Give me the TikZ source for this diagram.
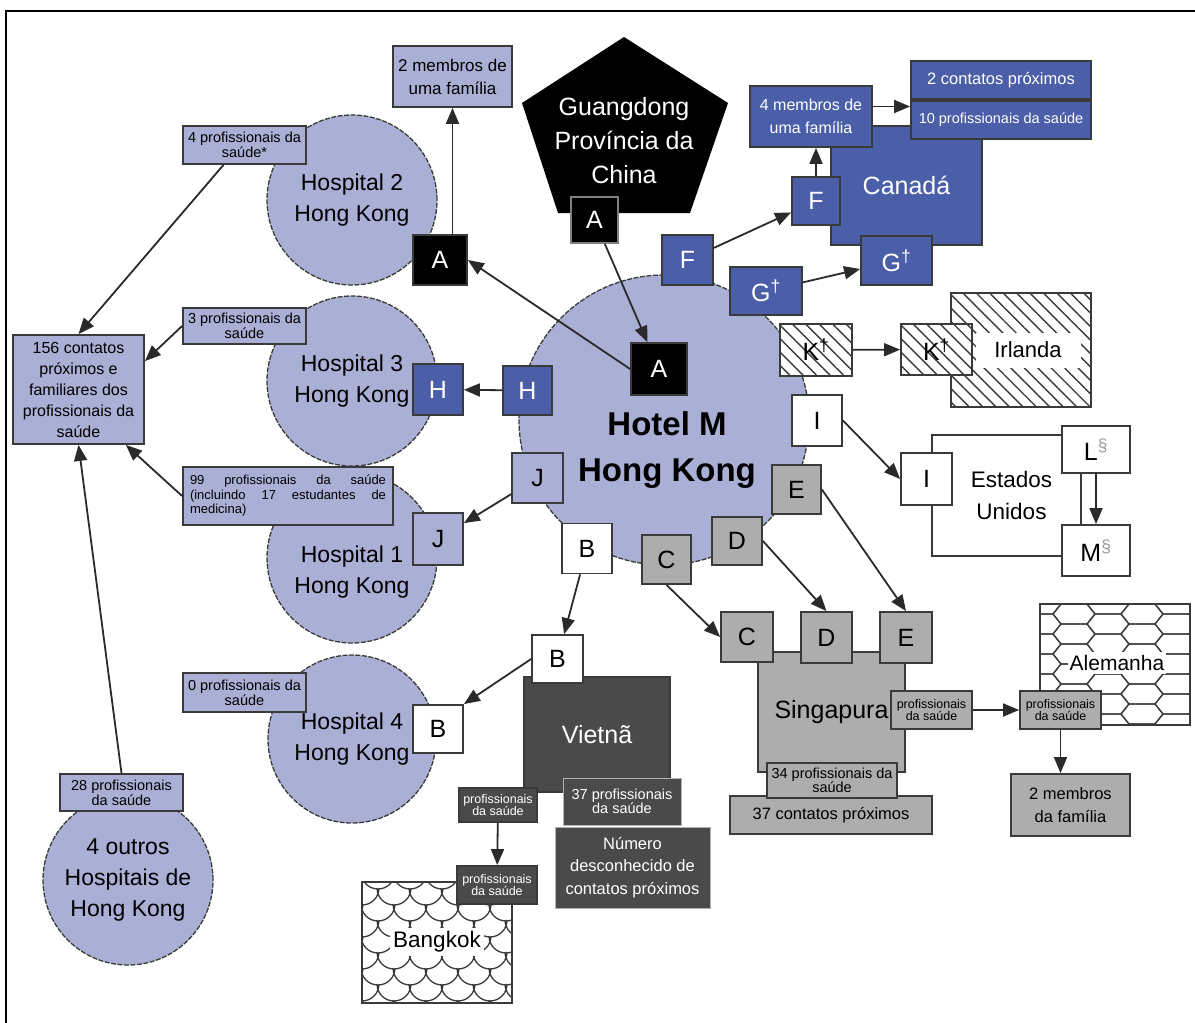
\documentclass[tikz,border=0pt]{standalone}
\usepackage{fontspec}
\setmainfont{Liberation Sans}
\usetikzlibrary{positioning, arrows.meta, patterns.meta}

\definecolor{hkblue}{HTML}{A9AFD5}
\definecolor{cablue}{HTML}{4B5EA8}
\definecolor{sggray}{HTML}{ADADAD}
\definecolor{vndark}{HTML}{4A4A4A}
\definecolor{edge}{HTML}{3A3A3A}
\definecolor{arrowc}{HTML}{2A2A2A}
\definecolor{supgray}{HTML}{9A9A9A}

\newcommand{\fsz}[2]{\fontsize{#1}{#2}\selectfont}
\hyphenpenalty=10000
\tolerance=9999

\begin{document}
\begin{tikzpicture}[
    x=1pt, y=-1pt,
    every node/.style={inner sep=0pt, align=center},
    box/.style={draw=edge, line width=1.8pt},
    letter/.style={box, minimum width=50pt, minimum height=50pt, font=\fsz{25}{25}},
    wide/.style={minimum width=71pt, minimum height=49pt},
    blk/.style={letter, fill=black, text=white},
    blu/.style={letter, fill=cablue, text=white},
    lbl/.style={letter, fill=hkblue},
    wht/.style={letter, fill=white},
    gry/.style={letter, fill=sggray},
    hatchfill/.style={preaction={fill=white}, pattern={Lines[angle=-45,distance=9.5pt,line width=1.4pt]}, pattern color=edge},
    hatch/.style={letter, wide, hatchfill},
    hosp/.style={circle, fill=hkblue, draw=edge, line width=1.3pt, dash pattern=on 5pt off 1.5pt, minimum size=170pt, font=\fsz{23}{31}},
    note/.style={box, fill=hkblue, font=\fsz{14.5}{15}},
    dark/.style={box, fill=vndark, text=white},
    patline/.style={draw=edge, line width=1.3pt},
    conn/.style={draw=arrowc, line width=1.8pt, -{Triangle[length=16pt,width=13pt]}}
]
\useasboundingbox (0,0) rectangle (1195,1023);
\draw[line width=2pt] (6,1023) -- (6,11) -- (1195,11);

% hospitais de Hong Kong
\node[hosp] (h2) at (352,200) {Hospital 2\\Hong Kong};
\node[hosp] (h3) at (352,381) {Hospital 3\\Hong Kong};
\node[hosp] (h1) at (352,558) {};
\node[font=\fsz{23}{31}] (h1txt) at (352,572) {Hospital 1\\Hong Kong};
\node[hosp, minimum size=168pt] (h4) at (352,739) {Hospital 4\\Hong Kong};
\node[hosp] (outros) at (128,880) {4 outros\\Hospitais de\\Hong Kong};

\node[note, minimum width=119pt, minimum height=61pt, font=\fsz{17}{23}] (fam2) at (452.5,76.5) {2 membros de\\uma família};
\node[note, minimum width=123pt, minimum height=38pt] (prof4) at (244.5,145) {4 profissionais da\\saúde*};
\node[note, minimum width=123pt, minimum height=36pt] (prof3) at (244.5,326) {3 profissionais da\\saúde};
\node[note, minimum width=210pt, minimum height=58pt, text width=196pt, align=justify, font=\fsz{13}{14.5}] (prof99) at (288,496) {99 profissionais da saúde (incluindo 17 estudantes de medicina)};
\node[note, minimum width=123pt, minimum height=39pt] (prof0) at (244.5,692.5) {0 profissionais da\\saúde};
\node[note, minimum width=123pt, minimum height=37pt] (prof28) at (121.5,792.5) {28 profissionais\\da saúde};
\node[note, minimum width=131pt, minimum height=109pt, font=\fsz{16}{21}] (c156) at (78.5,389.5) {156 contatos\\próximos e\\familiares dos\\profissionais da\\saúde};

\node[blk, minimum width=54pt] (h2A) at (440,260) {A};
\node[blu, minimum height=51pt] (h3H) at (438,389.5) {H};
\node[lbl, minimum height=52pt] (h1J) at (438,539) {J};
\node[wht, minimum height=48pt] (h4B) at (438,729) {B};

% provincia de Guangdong
\fill (624,37) -- (728,103) -- (690,213) -- (558,213) -- (522,103) -- cycle;
\node[text=white, font=\fsz{25}{34}] (gd) at (624,141) {Guangdong\\Província da\\China};
\node[blk, draw=gray, minimum width=47pt, minimum height=46pt] (pA) at (594.5,220) {A};

% Canada
\node[box, fill=cablue, text=white, minimum width=151pt, minimum height=119pt, font=\fsz{25}{25}] (canada) at (906.5,185.5) {Canadá};
\node[box, fill=cablue, text=white, minimum width=122pt, minimum height=61pt, font=\fsz{16}{23}] (fam4) at (811,116.5) {4 membros de\\uma família};
\node[box, fill=cablue, text=white, minimum width=180pt, minimum height=38pt, font=\fsz{16.5}{17}] (cont2) at (1001,80) {2 contatos próximos};
\node[box, fill=cablue, text=white, minimum width=180pt, minimum height=38pt, font=\fsz{14.5}{15}, below=0pt of cont2] (prof10) {10 profissionais da saúde};
\node[blu, minimum width=48pt, minimum height=48pt] (fC) at (816,201) {F};
\node[blu, wide] (gC) at (896.5,260.5) {G\textsuperscript{†}};

% Irlanda
\node[box, line width=1.5pt, hatchfill, minimum width=140pt, minimum height=114pt] (irl) at (1021,350) {};
\node[fill=white, minimum width=105pt, minimum height=35pt, font=\fsz{22}{22}] (irltxt) at (1028,350) {Irlanda};
\node[hatch, minimum height=51pt] (kI) at (936.5,349.5) {K\textsuperscript{†}};

% Estados Unidos
\node[box, fill=white, line width=1.5pt, minimum width=149pt, minimum height=121pt, font=\fsz{22.5}{32}] (eua) at (1006.5,495.5) {\hspace*{10pt}Estados\\\hspace*{10pt}Unidos};
\node[wht, minimum width=51pt, minimum height=52pt] (iU) at (926.5,479) {I};
\node[wht, minimum width=68pt, minimum height=47pt] (L) at (1096,449.5) {L\textsuperscript{\color{supgray}§}};
\node[wht, minimum width=68pt, minimum height=51pt] (M) at (1096,550.5) {M\textsuperscript{\color{supgray}§}};

% Singapura
\node[box, fill=sggray, minimum width=147pt, minimum height=120pt, font=\fsz{25}{25}] (sing) at (831.5,712) {Singapura};
\node[gry, minimum width=52pt] (cS) at (747,637) {C};
\node[gry, minimum width=51pt, minimum height=51pt] (dS) at (826.5,637.5) {D};
\node[gry, minimum width=52pt, minimum height=51pt] (eS) at (906,637.5) {E};
\node[box, fill=sggray, minimum width=81pt, minimum height=38pt, font=\fsz{12.5}{12.5}] (singprof) at (931.5,710) {profissionais\\da saúde};
\node[box, fill=sggray, minimum width=202pt, minimum height=38pt, font=\fsz{16.5}{17}] (cont37) at (831,815) {37 contatos próximos};
\node[box, fill=sggray, minimum width=130pt, minimum height=35pt, font=\fsz{14.5}{14}] (prof34) at (832,780.5) {34 profissionais da\\saúde};

% Alemanha
\node[box, line width=1.5pt, minimum width=150pt, minimum height=121pt] (ale) at (1115,664.5) {};
\begin{scope}
  \clip (ale.south west) rectangle (ale.north east);
  \foreach \i in {0,...,5}
    \foreach \j in {-1,...,7}
      \draw[patline, shift={({1040+\i*34},{604+\j*20+mod(\i,2)*10})}]
        (-21,0) -- (-13,-10) -- (13,-10) -- (21,0) -- (13,10) -- (-13,10) -- cycle;
\end{scope}
\node[fill=white, inner xsep=2pt, inner ysep=3pt, font=\fsz{21}{21}] (aletxt) at (1117,663) {Alemanha};
\node[box, fill=sggray, minimum width=81pt, minimum height=38pt, font=\fsz{12.5}{12.5}] (aleprof) at (1060.5,710) {profissionais\\da saúde};
\node[box, fill=sggray, minimum width=119pt, minimum height=62pt, font=\fsz{16.5}{23}] (alefam) at (1070.5,805) {2 membros\\da família};

% Vietna e Bangkok
\node[dark, minimum width=146pt, minimum height=115pt, font=\fsz{25}{25}] (viet) at (597,734.5) {Vietnã};
\node[wht, minimum width=51pt, minimum height=48pt] (bV) at (557.5,659) {B};
\node[dark, draw=gray!60, line width=1pt, minimum width=118pt, minimum height=47pt, font=\fsz{14.5}{14}] (vprof37) at (622,801.5) {37 profissionais\\da saúde};
\node[dark, draw=gray!60, line width=1pt, minimum width=155pt, minimum height=81pt, font=\fsz{16.5}{22.5}] (numdesc) at (632.5,867.5) {Número\\desconhecido de\\contatos próximos};

\node[box, line width=1.5pt, minimum width=150pt, minimum height=121pt] (bkk) at (437,942.5) {};
\begin{scope}
  \clip (bkk.south west) rectangle (bkk.north east);
  \foreach \j in {0,...,8}
    \foreach \i in {-1,...,5}
      \draw[patline] ({361+\i*32+mod(\j,2)*16},{872+\j*16}) arc[start angle=180, end angle=0, radius=17];
\end{scope}
\node[fill=white, inner xsep=3pt, inner ysep=4pt, font=\fsz{22.5}{22.5}] (bkktxt) at (437,942) {Bangkok};
\node[dark, minimum width=78pt, minimum height=34pt, font=\fsz{12.5}{12.5}] (bkprof1) at (498,805) {profissionais\\da saúde};
\node[dark, minimum width=80pt, minimum height=38pt, font=\fsz{12.5}{12.5}] (bkprof2) at (497,885) {profissionais\\da saúde};

% Hotel M
\node[hosp, minimum size=290pt] (hotel) at (664,420) {};
\node[font=\fsz{33}{46}\bfseries] (hoteltxt) at (667,450) {Hotel M\\Hong Kong};
\node[blk, minimum width=56pt, minimum height=52pt] (hA) at (659,369) {A};
\node[blu, minimum width=49pt, minimum height=49pt] (hH) at (527.5,390.5) {H};
\node[lbl, minimum width=51pt] (hJ) at (537.5,478) {J};
\node[wht] (hB) at (587,548.5) {B};
\node[gry, minimum width=49pt, minimum height=49pt] (hC) at (666.5,559.5) {C};
\node[gry, minimum height=48pt] (hD) at (737,541) {D};
\node[gry, minimum width=49pt, minimum height=49pt] (hE) at (796.5,489.5) {E};
\node[wht, minimum height=51pt] (hI) at (817,420.5) {I};
\node[hatch, minimum width=72pt, minimum height=52pt] (hK) at (816,350) {K\textsuperscript{†}};
\node[blu, wide, minimum width=72pt, minimum height=48pt] (hG) at (766,291) {G\textsuperscript{†}};
\node[blu, minimum width=51pt] (hF) at (687.5,260) {F};

% transmissao
\draw[conn] (pA) -- (hA);
\draw[conn] (hA.west) -- (h2A.east);
\draw[conn] (h2A.north -| fam2.south) -- (fam2.south);
\draw[conn] (hH) -- (h3H);
\draw[conn] (hJ) -- (h1J);
\draw[conn] (hB) -- (bV);
\draw[conn] (bV.west) -- (h4B.north east);
\draw[conn] (hC.south) -- (cS.west);
\draw[conn] (hD.east) -- (dS.north);
\draw[conn] (hE.east) -- (eS.north);
\draw[conn] (hI.east) -- (iU.west);
\draw[conn] (L) -- (M);
\draw[conn] (hK) -- (kI);
\draw[conn] (hG) -- (gC);
\draw[conn] (hF) -- (fC);
\draw[conn] (fC.north) -- (fC.north |- fam4.south);
\draw[conn] ([yshift=10pt]fam4.east) -- ([yshift=10pt]fam4.east -| cont2.west);
\draw[conn] (singprof.east) -- (aleprof.west);
\draw[conn] (aleprof.south) -- (aleprof.south |- alefam.north);
\draw[conn] (bkprof1) -- (bkprof2);
\draw[conn] ([xshift=-21pt]prof4.south) -- (c156.north);
\draw[conn] (prof3.west) -- ([yshift=-27pt]c156.north east);
\draw[conn] (prof99.west) -- ([xshift=-19pt]c156.south east);
\draw[conn] (prof28.north) -- (c156.south);
\end{tikzpicture}
\end{document}
